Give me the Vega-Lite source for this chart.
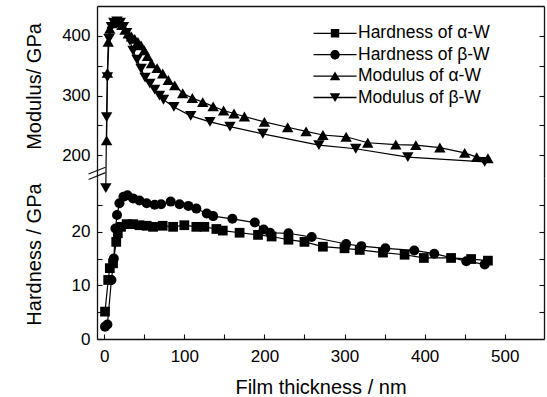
{
  "$schema": "https://vega.github.io/schema/vega-lite/v6.json",
  "padding": {"left": 24, "top": 6, "right": 4, "bottom": 0},
  "spacing": 0,
  "bounds": "flush",
  "config": {
    "view": {"stroke": null},
    "font": "Liberation Sans",
    "axis": {"labelFont": "Liberation Sans", "titleFont": "Liberation Sans", "labelFontSize": 17, "titleFontSize": 20, "titleFontWeight": "normal", "labelColor": "#000", "titleColor": "#000", "domainColor": "#111", "tickColor": "#111", "domainWidth": 1.3, "tickWidth": 1.1, "grid": false, "labelFlush": false, "labelOverlap": false},
    "legend": {"labelFont": "Liberation Sans", "labelFontSize": 17.5, "labelColor": "#000"}
  },
  "datasets": {
    "one": [{"k": 1}],
    "all": [
      {"series": "Modulus of α-W", "thickness": 3, "value": 225},
      {"series": "Modulus of α-W", "thickness": 4, "value": 338},
      {"series": "Modulus of α-W", "thickness": 5, "value": 390},
      {"series": "Modulus of α-W", "thickness": 7, "value": 412},
      {"series": "Modulus of α-W", "thickness": 10, "value": 421},
      {"series": "Modulus of α-W", "thickness": 14, "value": 424},
      {"series": "Modulus of α-W", "thickness": 18, "value": 423},
      {"series": "Modulus of α-W", "thickness": 22, "value": 418},
      {"series": "Modulus of α-W", "thickness": 26, "value": 410},
      {"series": "Modulus of α-W", "thickness": 30, "value": 404},
      {"series": "Modulus of α-W", "thickness": 34, "value": 399},
      {"series": "Modulus of α-W", "thickness": 38, "value": 395},
      {"series": "Modulus of α-W", "thickness": 42, "value": 390},
      {"series": "Modulus of α-W", "thickness": 46, "value": 384},
      {"series": "Modulus of α-W", "thickness": 50, "value": 376},
      {"series": "Modulus of α-W", "thickness": 54, "value": 366},
      {"series": "Modulus of α-W", "thickness": 59, "value": 354},
      {"series": "Modulus of α-W", "thickness": 66, "value": 346},
      {"series": "Modulus of α-W", "thickness": 73, "value": 337},
      {"series": "Modulus of α-W", "thickness": 80, "value": 326},
      {"series": "Modulus of α-W", "thickness": 88, "value": 317},
      {"series": "Modulus of α-W", "thickness": 98, "value": 304},
      {"series": "Modulus of α-W", "thickness": 110, "value": 296},
      {"series": "Modulus of α-W", "thickness": 123, "value": 289},
      {"series": "Modulus of α-W", "thickness": 136, "value": 282},
      {"series": "Modulus of α-W", "thickness": 149, "value": 275},
      {"series": "Modulus of α-W", "thickness": 162, "value": 270},
      {"series": "Modulus of α-W", "thickness": 175, "value": 265},
      {"series": "Modulus of α-W", "thickness": 200, "value": 256},
      {"series": "Modulus of α-W", "thickness": 229, "value": 247},
      {"series": "Modulus of α-W", "thickness": 252, "value": 240},
      {"series": "Modulus of α-W", "thickness": 273, "value": 234},
      {"series": "Modulus of α-W", "thickness": 302, "value": 231},
      {"series": "Modulus of α-W", "thickness": 329, "value": 221},
      {"series": "Modulus of α-W", "thickness": 364, "value": 218},
      {"series": "Modulus of α-W", "thickness": 389, "value": 217},
      {"series": "Modulus of α-W", "thickness": 419, "value": 213},
      {"series": "Modulus of α-W", "thickness": 450, "value": 204},
      {"series": "Modulus of α-W", "thickness": 465, "value": 197},
      {"series": "Modulus of α-W", "thickness": 479, "value": 195},
      {"series": "Modulus of β-W", "thickness": 2, "value": 145},
      {"series": "Modulus of β-W", "thickness": 3, "value": 264},
      {"series": "Modulus of β-W", "thickness": 4, "value": 331},
      {"series": "Modulus of β-W", "thickness": 6, "value": 395},
      {"series": "Modulus of β-W", "thickness": 9, "value": 415},
      {"series": "Modulus of β-W", "thickness": 12, "value": 422},
      {"series": "Modulus of β-W", "thickness": 16, "value": 424},
      {"series": "Modulus of β-W", "thickness": 20, "value": 422},
      {"series": "Modulus of β-W", "thickness": 24, "value": 415},
      {"series": "Modulus of β-W", "thickness": 28, "value": 405},
      {"series": "Modulus of β-W", "thickness": 32, "value": 392},
      {"series": "Modulus of β-W", "thickness": 36, "value": 375},
      {"series": "Modulus of β-W", "thickness": 41, "value": 360},
      {"series": "Modulus of β-W", "thickness": 46, "value": 345},
      {"series": "Modulus of β-W", "thickness": 51, "value": 330},
      {"series": "Modulus of β-W", "thickness": 57, "value": 320},
      {"series": "Modulus of β-W", "thickness": 63, "value": 310},
      {"series": "Modulus of β-W", "thickness": 69, "value": 300},
      {"series": "Modulus of β-W", "thickness": 74, "value": 293},
      {"series": "Modulus of β-W", "thickness": 87, "value": 281},
      {"series": "Modulus of β-W", "thickness": 108, "value": 266},
      {"series": "Modulus of β-W", "thickness": 132, "value": 256},
      {"series": "Modulus of β-W", "thickness": 157, "value": 248},
      {"series": "Modulus of β-W", "thickness": 198, "value": 236},
      {"series": "Modulus of β-W", "thickness": 268, "value": 217},
      {"series": "Modulus of β-W", "thickness": 314, "value": 211},
      {"series": "Modulus of β-W", "thickness": 379, "value": 197},
      {"series": "Modulus of β-W", "thickness": 475, "value": 189},
      {"series": "Hardness of α-W", "thickness": 1, "value": 5.1},
      {"series": "Hardness of α-W", "thickness": 5, "value": 11},
      {"series": "Hardness of α-W", "thickness": 7, "value": 13.2},
      {"series": "Hardness of α-W", "thickness": 11, "value": 14.1},
      {"series": "Hardness of α-W", "thickness": 15, "value": 18.1},
      {"series": "Hardness of α-W", "thickness": 17, "value": 19.7},
      {"series": "Hardness of α-W", "thickness": 21, "value": 20.9},
      {"series": "Hardness of α-W", "thickness": 28, "value": 21.4},
      {"series": "Hardness of α-W", "thickness": 36, "value": 21.4},
      {"series": "Hardness of α-W", "thickness": 44, "value": 21.2},
      {"series": "Hardness of α-W", "thickness": 53, "value": 21.1},
      {"series": "Hardness of α-W", "thickness": 61, "value": 20.9},
      {"series": "Hardness of α-W", "thickness": 73, "value": 21.1},
      {"series": "Hardness of α-W", "thickness": 86, "value": 20.9},
      {"series": "Hardness of α-W", "thickness": 100, "value": 21.2},
      {"series": "Hardness of α-W", "thickness": 115, "value": 20.9},
      {"series": "Hardness of α-W", "thickness": 125, "value": 20.9},
      {"series": "Hardness of α-W", "thickness": 140, "value": 20.5},
      {"series": "Hardness of α-W", "thickness": 148, "value": 20.2},
      {"series": "Hardness of α-W", "thickness": 169, "value": 19.8},
      {"series": "Hardness of α-W", "thickness": 192, "value": 19.4},
      {"series": "Hardness of α-W", "thickness": 209, "value": 19.1},
      {"series": "Hardness of α-W", "thickness": 230, "value": 18.5},
      {"series": "Hardness of α-W", "thickness": 250, "value": 18.1},
      {"series": "Hardness of α-W", "thickness": 273, "value": 17.2},
      {"series": "Hardness of α-W", "thickness": 300, "value": 16.9},
      {"series": "Hardness of α-W", "thickness": 319, "value": 16.6},
      {"series": "Hardness of α-W", "thickness": 348, "value": 16.1},
      {"series": "Hardness of α-W", "thickness": 375, "value": 15.7},
      {"series": "Hardness of α-W", "thickness": 399, "value": 15.1},
      {"series": "Hardness of α-W", "thickness": 433, "value": 15.1},
      {"series": "Hardness of α-W", "thickness": 458, "value": 14.9},
      {"series": "Hardness of α-W", "thickness": 479, "value": 14.6},
      {"series": "Hardness of β-W", "thickness": 1, "value": 2.3},
      {"series": "Hardness of β-W", "thickness": 4, "value": 2.7},
      {"series": "Hardness of β-W", "thickness": 9, "value": 11},
      {"series": "Hardness of β-W", "thickness": 12, "value": 15},
      {"series": "Hardness of β-W", "thickness": 14, "value": 20.6},
      {"series": "Hardness of β-W", "thickness": 16, "value": 23.1},
      {"series": "Hardness of β-W", "thickness": 19, "value": 25.3},
      {"series": "Hardness of β-W", "thickness": 24, "value": 26.5},
      {"series": "Hardness of β-W", "thickness": 29, "value": 26.8},
      {"series": "Hardness of β-W", "thickness": 36, "value": 26.2},
      {"series": "Hardness of β-W", "thickness": 44, "value": 25.8},
      {"series": "Hardness of β-W", "thickness": 53, "value": 25.3},
      {"series": "Hardness of β-W", "thickness": 63, "value": 25.0},
      {"series": "Hardness of β-W", "thickness": 71, "value": 25.1},
      {"series": "Hardness of β-W", "thickness": 83, "value": 25.6},
      {"series": "Hardness of β-W", "thickness": 94, "value": 25.1},
      {"series": "Hardness of β-W", "thickness": 105, "value": 24.8},
      {"series": "Hardness of β-W", "thickness": 115, "value": 24.3},
      {"series": "Hardness of β-W", "thickness": 128, "value": 23.4},
      {"series": "Hardness of β-W", "thickness": 136, "value": 22.9},
      {"series": "Hardness of β-W", "thickness": 160, "value": 22.4},
      {"series": "Hardness of β-W", "thickness": 188, "value": 21.7},
      {"series": "Hardness of β-W", "thickness": 199, "value": 20.4},
      {"series": "Hardness of β-W", "thickness": 207, "value": 19.8},
      {"series": "Hardness of β-W", "thickness": 230, "value": 19.7},
      {"series": "Hardness of β-W", "thickness": 259, "value": 19.0},
      {"series": "Hardness of β-W", "thickness": 302, "value": 17.7},
      {"series": "Hardness of β-W", "thickness": 321, "value": 17.3},
      {"series": "Hardness of β-W", "thickness": 351, "value": 16.9},
      {"series": "Hardness of β-W", "thickness": 387, "value": 16.5},
      {"series": "Hardness of β-W", "thickness": 412, "value": 15.9},
      {"series": "Hardness of β-W", "thickness": 452, "value": 14.5},
      {"series": "Hardness of β-W", "thickness": 475, "value": 13.9}
    ]
  },
  "vconcat": [
    {
      "width": 447,
      "height": 172,
      "data": {"name": "all"},
      "layer": [
        {
          "transform": [{"filter": "indexof(datum.series, 'Modulus') === 0"}],
          "mark": {"type": "line", "color": "black", "strokeWidth": 1.2},
          "encoding": {
            "x": {"field": "thickness", "type": "quantitative", "scale": {"domain": [-9, 549], "nice": false, "zero": false},
                  "axis": {"orient": "top", "labels": false, "ticks": false, "title": null, "domain": true}},
            "y": {"field": "value", "type": "quantitative", "scale": {"domain": [162, 450], "nice": false, "zero": false},
                  "axis": {"orient": "left", "values": [200, 250, 300, 350, 400], "labelExpr": "datum.value % 100 === 0 ? datum.label : ''", "tickSize": -5, "labelPadding": 12, "title": "Modulus/ GPa", "titleX": -53, "titleY": 80, "titleBaseline": "bottom", "titleAngle": 270, "titleAlign": "center"}},
            "detail": {"field": "series", "type": "nominal"}
          }
        },
        {
          "transform": [{"filter": "datum.series === 'Modulus of α-W'"}],
          "mark": {"type": "point", "shape": "triangle-up", "filled": true, "color": "black", "size": 130, "opacity": 1, "strokeWidth": 0},
          "encoding": {
            "x": {"field": "thickness", "type": "quantitative"},
            "y": {"field": "value", "type": "quantitative", "axis": {"orient": "right", "values": [200, 250, 300, 350, 400], "labels": false, "tickSize": -5, "title": null}}
          }
        },
        {
          "transform": [{"filter": "datum.series === 'Modulus of β-W'"}],
          "mark": {"type": "point", "shape": "triangle-down", "filled": true, "color": "black", "size": 130, "opacity": 1, "strokeWidth": 0},
          "encoding": {
            "x": {"field": "thickness", "type": "quantitative"},
            "y": {"field": "value", "type": "quantitative", "axis": null}
          }
        },
        {
          "data": {"name": "one"},
          "mark": {"type": "rule", "color": "#111", "strokeWidth": 1.2},
          "encoding": {"x": {"datum": -19.6, "type": "quantitative"}, "x2": {"datum": 1.6}, "y": {"datum": 168.7, "type": "quantitative", "axis": null}, "y2": {"datum": 180.1}}
        },
        {
          "data": {"name": "one"},
          "mark": {"type": "rule", "color": "#111", "strokeWidth": 1.2},
          "encoding": {"x": {"datum": -19.6, "type": "quantitative"}, "x2": {"datum": 1.6}, "y": {"datum": 159.6, "type": "quantitative", "axis": null}, "y2": {"datum": 171.0}}
        },
        {
          "mark": {"type": "point", "filled": true, "color": "black", "opacity": 0},
          "encoding": {
            "shape": {"field": "series", "type": "nominal",
              "scale": {"domain": ["Hardness of α-W", "Hardness of β-W", "Modulus of α-W", "Modulus of β-W"],
                        "range": ["M-1,-0.06H3.1V0.06H-1ZM0.65,-0.4H1.45V0.4H0.65Z",
                                  "M-1,-0.06H3.1V0.06H-1ZM0.6,0A0.45,0.45,0,1,1,1.5,0A0.45,0.45,0,1,1,0.6,0Z",
                                  "M-1,-0.06H3.1V0.06H-1ZM1.05,-0.43L1.55,0.4H0.55Z",
                                  "M-1,-0.06H3.1V0.06H-1ZM1.05,0.43L0.55,-0.4H1.55Z"]},
              "legend": {"orient": "none", "legendX": 216.5, "legendY": 16.8, "title": null, "symbolSize": 441, "rowPadding": 2.4, "padding": 0, "labelOffset": 23.5, "labelFontSize": 17.5,
                         "symbolFillColor": "black", "symbolStrokeWidth": 0, "symbolOpacity": 1,
                         "encode": {"symbols": {"opacity": {"value": 1}, "fill": {"value": "black"}, "strokeWidth": {"value": 0}}}}}
          }
        }
      ],
      "resolve": {"axis": {"y": "independent"}}
    },
    {
      "width": 447,
      "height": 161,
      "data": {"name": "all"},
      "layer": [
        {
          "transform": [{"filter": "indexof(datum.series, 'Hardness') === 0"}],
          "mark": {"type": "line", "color": "black", "strokeWidth": 1.2},
          "encoding": {
            "x": {"field": "thickness", "type": "quantitative", "scale": {"domain": [-9, 549], "nice": false, "zero": false},
                  "axis": {"orient": "bottom", "values": [0, 50, 100, 150, 200, 250, 300, 350, 400, 450, 500], "labelExpr": "datum.value % 100 === 0 ? datum.label : ''", "tickSize": -5, "labelPadding": 14, "title": "Film thickness / nm", "titleBaseline": "alphabetic", "titleY": 54}},
            "y": {"field": "value", "type": "quantitative", "scale": {"domain": [0, 30], "nice": false, "zero": false},
                  "axis": {"orient": "left", "values": [0, 5, 10, 15, 20, 25], "labelExpr": "datum.value % 10 === 0 ? datum.label : ''", "tickSize": -5, "labelPadding": 12, "title": "Hardness / GPa", "titleX": -53, "titleY": 76, "titleBaseline": "bottom", "titleAngle": 270, "titleAlign": "center"}},
            "detail": {"field": "series", "type": "nominal"}
          }
        },
        {
          "transform": [{"filter": "datum.series === 'Hardness of α-W'"}],
          "mark": {"type": "point", "shape": "square", "filled": true, "color": "black", "size": 95, "opacity": 1, "strokeWidth": 0},
          "encoding": {
            "x": {"field": "thickness", "type": "quantitative"},
            "y": {"field": "value", "type": "quantitative", "axis": {"orient": "right", "values": [5, 10, 15, 20, 25], "labels": false, "tickSize": -5, "title": null}}
          }
        },
        {
          "transform": [{"filter": "datum.series === 'Hardness of β-W'"}],
          "mark": {"type": "point", "shape": "circle", "filled": true, "color": "black", "size": 100, "opacity": 1, "strokeWidth": 0},
          "encoding": {
            "x": {"field": "thickness", "type": "quantitative"},
            "y": {"field": "value", "type": "quantitative", "axis": null}
          }
        }
      ],
      "resolve": {"axis": {"y": "independent"}}
    }
  ]
}
